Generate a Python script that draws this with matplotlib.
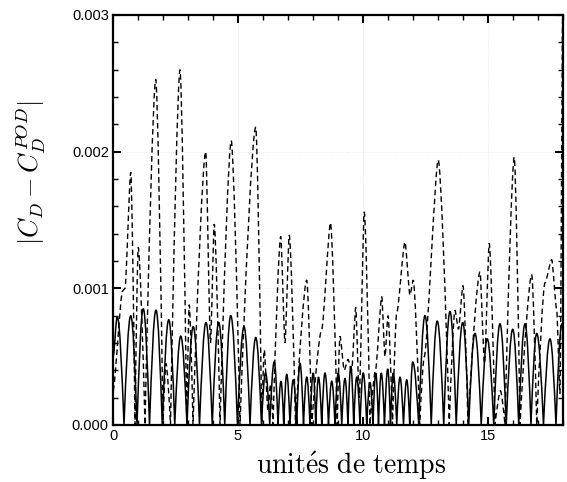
import matplotlib
matplotlib.use("Agg")
import matplotlib.pyplot as plt
from matplotlib.path import Path
from matplotlib.patches import PathPatch
from matplotlib.ticker import MultipleLocator, FormatStrFormatter

# ---- data (time, value at local extrema) ----
solid_t = [0.0, 0.17, 0.44, 0.71, 0.96, 1.21, 1.46, 1.72, 1.97, 2.23, 2.47, 2.71, 2.96,
           3.21, 3.46, 3.72, 3.97, 4.23, 4.47, 4.71, 4.98, 5.24, 5.48, 5.71, 5.94,
           6.1, 6.27, 6.45, 6.6, 6.72, 6.83, 6.95, 7.08, 7.21, 7.35, 7.48, 7.62, 7.75,
           7.88, 8.01, 8.11, 8.22, 8.35, 8.48, 8.62, 8.75, 8.88, 9.01, 9.15, 9.28,
           9.4, 9.51, 9.63, 9.75, 9.88, 10.01, 10.15, 10.28, 10.4, 10.51, 10.62,
           10.73, 10.86, 10.99, 11.1, 11.21, 11.35, 11.48, 11.62, 11.75, 11.87,
           11.99, 12.23, 12.48, 12.73, 12.97, 13.23, 13.48, 13.73, 13.99, 14.23,
           14.48, 14.73, 14.97, 15.23, 15.48, 15.73, 15.99, 16.23, 16.48, 16.72,
           16.95, 17.22, 17.48, 17.72, 17.96, 18.0]
solid_v = [0.0005, 0.00079, 0.0, 0.0008, 0.0, 0.00085, 0.0, 0.00084, 0.0, 0.00077, 0.0,
           0.00065, 0.0, 0.00072, 0.0, 0.00075, 0.0, 0.00075, 0.0, 0.0008, 0.0,
           0.00072, 0.0, 0.00064, 0.0,
           0.00038, 0.0, 0.00046, 0.0, 0.00032, 0.0, 0.00037, 0.0, 0.00033, 0.0,
           0.00045, 0.0, 0.00035, 0.0, 0.00038, 0.0, 0.00035, 0.0, 0.00038, 0.0,
           0.00032, 0.0, 0.00038, 0.0, 0.00034, 0.0, 0.00043, 0.0, 0.00035, 0.0,
           0.00038, 0.0, 0.00031, 0.0, 0.00038, 0.0, 0.00038, 0.0, 0.00041, 0.0,
           0.00038, 0.0, 0.00035, 0.0, 0.00033, 0.0, 0.00046, 0.0, 0.0008, 0.0,
           0.00076, 0.0, 0.00083, 0.0, 0.00075, 0.0, 0.00067, 0.0, 0.00063, 0.0,
           0.00074, 0.0, 0.0007, 0.0, 0.00074, 0.0, 0.00067, 0.0, 0.00063, 0.0,
           0.00074, 0.00072]

dashed_t = [0.0, 0.38, 0.48, 0.71, 0.88, 1.01, 1.28, 1.71, 2.0, 2.12, 2.3, 2.68, 2.95,
            3.05, 3.2, 3.71, 3.9, 4.05, 4.28, 4.73, 5.08, 5.71, 5.95, 6.05, 6.2, 6.3,
            6.4, 6.71, 6.88, 7.05, 7.3, 7.75, 7.95, 8.35, 8.7, 8.97, 9.08, 9.25, 9.4,
            9.55, 9.71, 9.85, 10.05, 10.28, 10.5, 10.75, 10.88, 11.0, 11.18, 11.35,
            11.68, 11.88, 12.01, 12.27, 12.45, 13.01, 13.45, 13.68, 13.82, 14.0, 14.2,
            14.68, 14.86, 15.05, 15.28, 15.5, 15.68, 16.05, 16.28, 16.75, 16.95,
            17.28, 17.55, 17.75, 17.88, 18.0]
dashed_v = [0.00025, 0.00098, 0.001, 0.00185, 0.0, 0.0013, 0.0, 0.00253, 0.0, 0.00045,
            0.0, 0.0026, 0.0, 0.00088, 0.0, 0.002, 0.0006, 0.00147, 0.0, 0.00208, 0.0,
            0.00218, 0.0, 0.00055, 0.0001, 0.0003, 0.0, 0.00138, 0.0006, 0.00139, 0.0,
            0.00106, 0.0, 0.0007, 0.00148, 0.0, 0.00065, 0.0004, 0.00048, 0.0004,
            0.00086, 0.0002, 0.00156, 0.0, 0.0004, 0.00094, 0.0005, 0.0008, 0.0,
            0.00082, 0.00134, 0.00095, 0.00106, 0.0, 0.0005, 0.00194, 0.0, 0.00084,
            0.0007, 0.00102, 0.0, 0.00112, 0.00045, 0.00133, 0.0, 0.00025, 0.0,
            0.00196, 0.0, 0.0011, 0.0, 0.00104, 0.00121, 0.00084, 0.00023, 0.0032]

x_ticks = [0, 5, 10, 15]
y_ticks = [0.000, 0.001, 0.002, 0.003]


def smooth_path(ts, vs, flat=0.362, sharp=0.326, rise=0.512):
    """Cubic Bezier path through extrema: sharp at zeros, flat at other extrema."""
    verts = [(ts[0], vs[0])]
    codes = [Path.MOVETO]
    for i in range(len(ts) - 1):
        t0, v0, t1, v1 = ts[i], vs[i], ts[i + 1], vs[i + 1]
        d = t1 - t0
        if v0 == 0:
            c1 = (t0 + sharp * d, v0 + rise * (v1 - v0))
        else:
            c1 = (t0 + flat * d, v0)
        if v1 == 0:
            c2 = (t1 - sharp * d, v1 + rise * (v0 - v1))
        else:
            c2 = (t1 - flat * d, v1)
        verts += [c1, c2, (t1, v1)]
        codes += [Path.CURVE4] * 3
    return Path(verts, codes)


plt.rcParams['mathtext.fontset'] = 'cm'
fig = plt.figure(figsize=(5.67, 4.82), dpi=100)
ax = fig.add_axes([0.1993, 0.1183, 0.7936, 0.8506])

ax.set_xlim(0, 18)
ax.set_ylim(0, 0.003)

# faint grid
ax.grid(True, which='major', color='#e2e2e2', linestyle=':', linewidth=0.6)
ax.set_axisbelow(True)

ax.add_patch(PathPatch(smooth_path(dashed_t, dashed_v, flat=0.22, sharp=0.3, rise=0.45),
                       fill=False, edgecolor='black', linewidth=1.0,
                       linestyle=(0, (4, 2.5))))
ax.add_patch(PathPatch(smooth_path(solid_t, solid_v), fill=False,
                       edgecolor='black', linewidth=1.1))

ax.set_xticks(x_ticks)
ax.set_yticks(y_ticks)
ax.xaxis.set_minor_locator(MultipleLocator(1))
ax.yaxis.set_minor_locator(MultipleLocator(0.0002))
ax.yaxis.set_major_formatter(FormatStrFormatter('%.3f'))
ax.tick_params(which='both', direction='in', top=True, right=True)
ax.tick_params(which='major', length=6, width=1.5, labelsize=10.5, pad=3)
ax.tick_params(which='minor', length=3.5, width=1.0)
for lab in ax.get_xticklabels() + ax.get_yticklabels():
    lab.set_fontfamily('Liberation Sans')
for sp in ax.spines.values():
    sp.set_linewidth(1.6)

ax.set_xlabel(r'$\mathrm{unit\acute{e}s\ de\ temps}$', fontsize=20)
ax.set_ylabel(r'$|C_D - C_D^{POD}|$', fontsize=19)
ax.xaxis.set_label_coords(0.529, -0.058)
ax.yaxis.set_label_coords(-0.145, 0.615)

fig.savefig('out.png', dpi=100)
